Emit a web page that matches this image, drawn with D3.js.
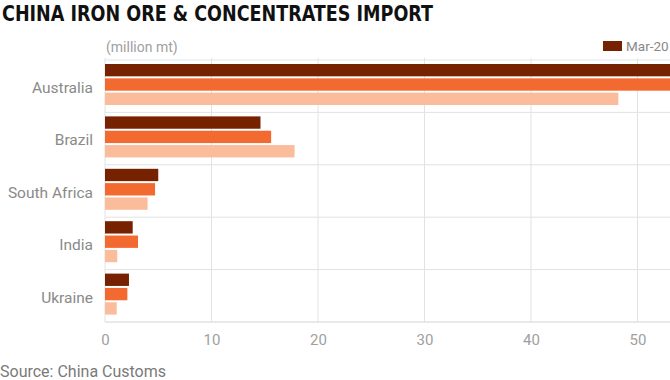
<!DOCTYPE html>
<html><head><meta charset="utf-8">
<script src="https://cdn.jsdelivr.net/npm/d3@7"></script>
<style>
html,body{margin:0;padding:0;background:#fff;overflow:hidden;}
svg{display:block;font-family:Roboto,"Liberation Sans",sans-serif;}
</style></head>
<body>
<svg id="chart" width="670" height="380"></svg>
<script>
const categories = ["Australia","Brazil","South Africa","India","Ukraine"];
const seriesNames = ["Mar-20","Feb","Mar-prev"];
const seriesMar = [60.5, 14.6, 5.0, 2.6, 2.25];
const seriesFeb = [61.5, 15.6, 4.7, 3.1, 2.1];
const seriesMarPrev = [48.2, 17.8, 4.0, 1.15, 1.1];
const xTicks = [0,10,20,30,40,50];
const colors = ["#762100","#f26a2f","#fbbc9b"];

(function(){
const seriesValues = [seriesMar, seriesFeb, seriesMarPrev];
const svg = d3.select("#chart");
const W = 670;
const plotTop = 60, plotBottom = 322;

const x = d3.scaleLinear().domain([0,50]).range([105,637.5]);
const y = d3.scaleBand().domain(categories).range([plotTop,plotBottom]).padding(0);
const y1 = d3.scaleBand().domain(seriesNames).range([4,45]).paddingInner(0.14);

svg.append("text").attr("x",2).attr("y",21)
  .attr("font-family","'Liberation Sans Narrow','DejaVu Sans Condensed',Roboto,sans-serif")
  .attr("font-weight","bold").attr("font-size",22).attr("fill","#111")
  .attr("textLength",431).attr("lengthAdjust","spacingAndGlyphs")
  .text("CHINA IRON ORE & CONCENTRATES IMPORT");

svg.append("text").attr("x",106).attr("y",52).attr("font-size",14).attr("fill","#a0a0a0")
  .text("(million mt)");

// legend: only the first item is within the visible area of the reference
const leg = svg.append("g");
leg.append("rect").attr("x",603).attr("y",41).attr("width",19).attr("height",10).attr("fill",colors[0]);
leg.append("text").attr("x",626).attr("y",51).attr("font-size",13.5).attr("fill","#888").text(seriesNames[0]);

const grid = svg.append("g");
grid.selectAll("line.v").data(xTicks).join("line")
  .attr("x1",d=>x(d)).attr("x2",d=>x(d)).attr("y1",plotTop-2).attr("y2",plotBottom)
  .attr("stroke","#e2e2e2").attr("stroke-width",1);
const hLines = categories.map(c=>y(c)).concat([plotBottom]);
grid.selectAll("line.h").data(hLines).join("line")
  .attr("x1",x(0)).attr("x2",W).attr("y1",d=>d).attr("y2",d=>d)
  .attr("stroke",(d,i)=>i===0?"#dfe7ec":"#e2e2e2").attr("stroke-width",(d,i)=>i===hLines.length-1?1.5:1);

const groups = svg.append("g").selectAll("g").data(categories).join("g")
  .attr("transform",c=>`translate(0,${y(c)})`);
groups.selectAll("rect").data((c,ci)=>seriesNames.map((s,si)=>({s,si,v:seriesValues[si][ci]})))
  .join("rect")
  .attr("x",x(0)).attr("y",d=>y1(d.s)).attr("height",y1.bandwidth())
  .attr("width",d=>x(d.v)-x(0)).attr("fill",d=>colors[d.si]);

svg.append("g").selectAll("text").data(categories).join("text")
  .attr("x",93).attr("y",c=>y(c)+y1(seriesNames[1])+y1.bandwidth()/2+3)
  .attr("dy","0.35em").attr("text-anchor","end").attr("font-size",15.5).attr("fill","#8a8a8a")
  .text(c=>c);

const xAxis = d3.axisBottom(x).tickValues(xTicks).tickSize(0).tickPadding(12).tickFormat(d3.format("d"));
const ax = svg.append("g").attr("transform",`translate(0,${plotBottom})`).call(xAxis);
ax.select(".domain").remove();
ax.selectAll("text").attr("font-size",15).attr("fill","#a0a0a0").attr("font-family","Roboto,sans-serif");

svg.append("text").attr("x",0).attr("y",377).attr("font-size",16).attr("fill","#7a7a7a")
  .text("Source: China Customs");
})();
</script>
</body></html>
